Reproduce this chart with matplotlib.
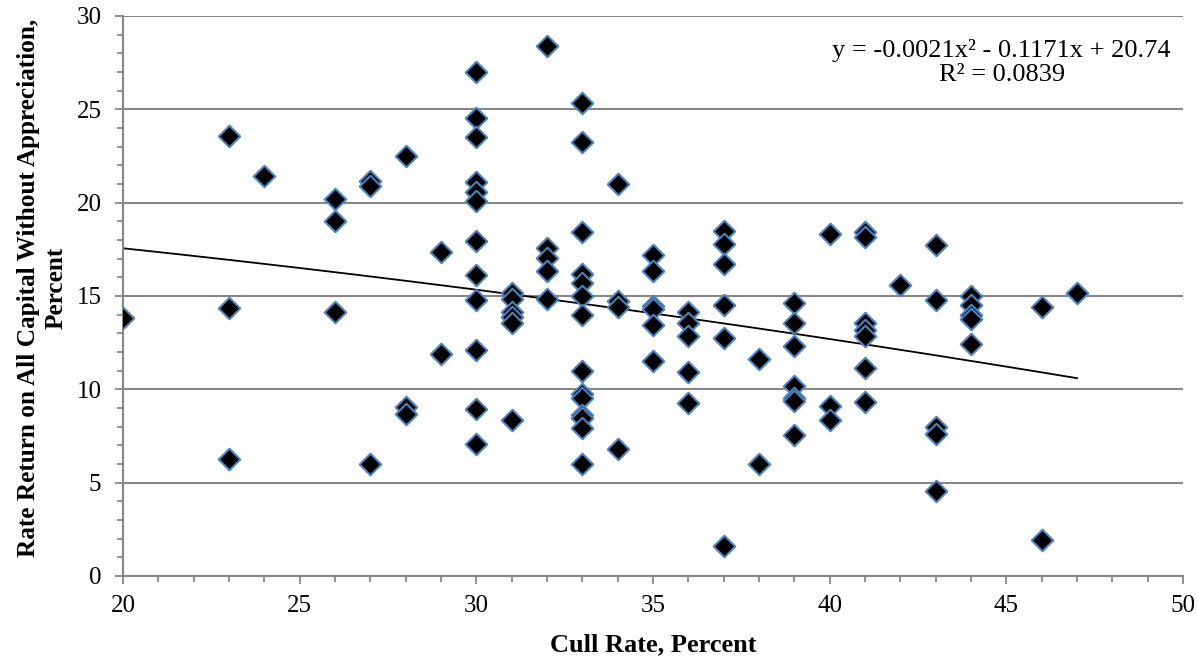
import numpy as np
import matplotlib
matplotlib.use("Agg")
import matplotlib.pyplot as plt
from matplotlib.ticker import MultipleLocator

# cull rate (%) and rate of return (%)
cull_rate = [
    20,
    23, 23, 23,
    24,
    26, 26, 26,
    27, 27, 27,
    28, 28, 28,
    29, 29,
    30, 30, 30, 30, 30, 30, 30, 30, 30, 30, 30, 30,
    31, 31, 31, 31, 31, 31,
    32, 32, 32, 32, 32,
    33, 33, 33, 33, 33, 33, 33, 33, 33, 33, 33, 33, 33, 33,
    34, 34, 34, 34,
    35, 35, 35, 35, 35, 35,
    36, 36, 36, 36, 36,
    37, 37, 37, 37, 37, 37,
    38, 38,
    39, 39, 39, 39, 39, 39, 39,
    40, 40, 40,
    41, 41, 41, 41, 41, 41, 41,
    42,
    43, 43, 43, 43, 43,
    44, 44, 44, 44, 44,
    46, 46,
    47,
]
rate_return = [
    13.8,
    23.55, 14.37, 6.27,
    21.43,
    20.2, 19.0, 14.12,
    21.16, 20.9, 6.02,
    22.5, 9.07, 8.66,
    17.37, 11.87,
    26.98, 24.51, 23.51, 21.12, 20.55, 20.09, 17.94, 16.14, 14.78, 12.09, 8.93, 7.05,
    15.16, 14.82, 14.16, 13.89, 13.55, 8.36,
    28.39, 17.55, 17.03, 16.33, 14.85,
    25.32, 23.26, 18.41, 16.2, 15.71, 14.98, 13.98, 11.0, 9.75, 9.55, 8.62, 8.45, 7.91, 5.98,
    20.98, 14.75, 14.43, 6.79,
    17.19, 16.32, 14.46, 14.28, 13.43, 11.52,
    14.16, 13.53, 12.87, 10.94, 9.25,
    18.48, 17.77, 16.7, 14.52, 12.73, 1.62,
    11.62, 5.98,
    14.61, 13.55, 12.32, 10.18, 9.55, 9.36, 7.53,
    18.3, 9.1, 8.36,
    18.41, 18.14, 13.55, 13.18, 12.88, 11.16, 9.32,
    15.6,
    17.73, 14.78, 8.0, 7.6, 4.55,
    15.02, 14.54, 13.98, 13.78, 12.43,
    14.39, 1.93,
    15.18,
]

# polynomial trendline shown on the chart (Excel, order 2)
trend_coef = [-0.0021, -0.1171, 20.74]
trend_text = "y = -0.0021x\u00b2 - 0.1171x + 20.74\nR\u00b2 = 0.0839"

plt.rcParams['font.family'] = ['Liberation Serif', 'DejaVu Serif']

W, H = 1197, 663
fig = plt.figure(figsize=(W / 100, H / 100), dpi=100)
ax = fig.add_axes([123 / W, (H - 576) / H, (1183 - 123) / W, (576 - 16) / H])

grid_col = '#878787'
ax.set_xlim(20, 50)
ax.set_ylim(0, 30)
ax.xaxis.set_major_locator(MultipleLocator(5))
ax.xaxis.set_minor_locator(MultipleLocator(1))
ax.yaxis.set_major_locator(MultipleLocator(5))
ax.yaxis.set_minor_locator(MultipleLocator(1))
ax.yaxis.grid(True, which='major', color=grid_col, linewidth=1.5)
ax.set_axisbelow(True)

for s in ['top', 'right']:
    ax.spines[s].set_visible(False)
for s in ['left', 'bottom']:
    ax.spines[s].set_color(grid_col)
    ax.spines[s].set_linewidth(1.5)

ax.tick_params(axis='both', which='major', direction='out', length=5.5, width=1.3,
               color=grid_col, labelsize=18, labelcolor='black')
ax.tick_params(axis='both', which='minor', direction='out', length=4.5, width=1.3,
               color=grid_col)
ax.tick_params(axis='y', which='major', pad=10)
ax.tick_params(axis='x', which='major', pad=8)

# trendline
xs = np.linspace(min(cull_rate), max(cull_rate), 200)
ax.plot(xs, np.polyval(trend_coef, xs), color='black', linewidth=1.3, zorder=2)

ax.scatter(cull_rate, rate_return, marker='D', s=120, facecolor='black',
           edgecolor='#4F81BD', linewidth=1.5, zorder=3)

ax.text(44.87, 27.5, trend_text, ha='center', va='center', fontsize=19,
        linespacing=1.15)

ax.set_xlabel("Cull Rate, Percent", fontsize=19, fontweight='bold')
ax.set_ylabel("Rate Return on All Capital Without Appreciation,\nPercent",
              fontsize=18.2, fontweight='bold', linespacing=1.3)
ax.xaxis.set_label_coords(0.5, (576 - 633) / 560)
ax.yaxis.set_label_coords((68 - 123) / 1060, 0.515)

fig.savefig("out.png", dpi=100)
